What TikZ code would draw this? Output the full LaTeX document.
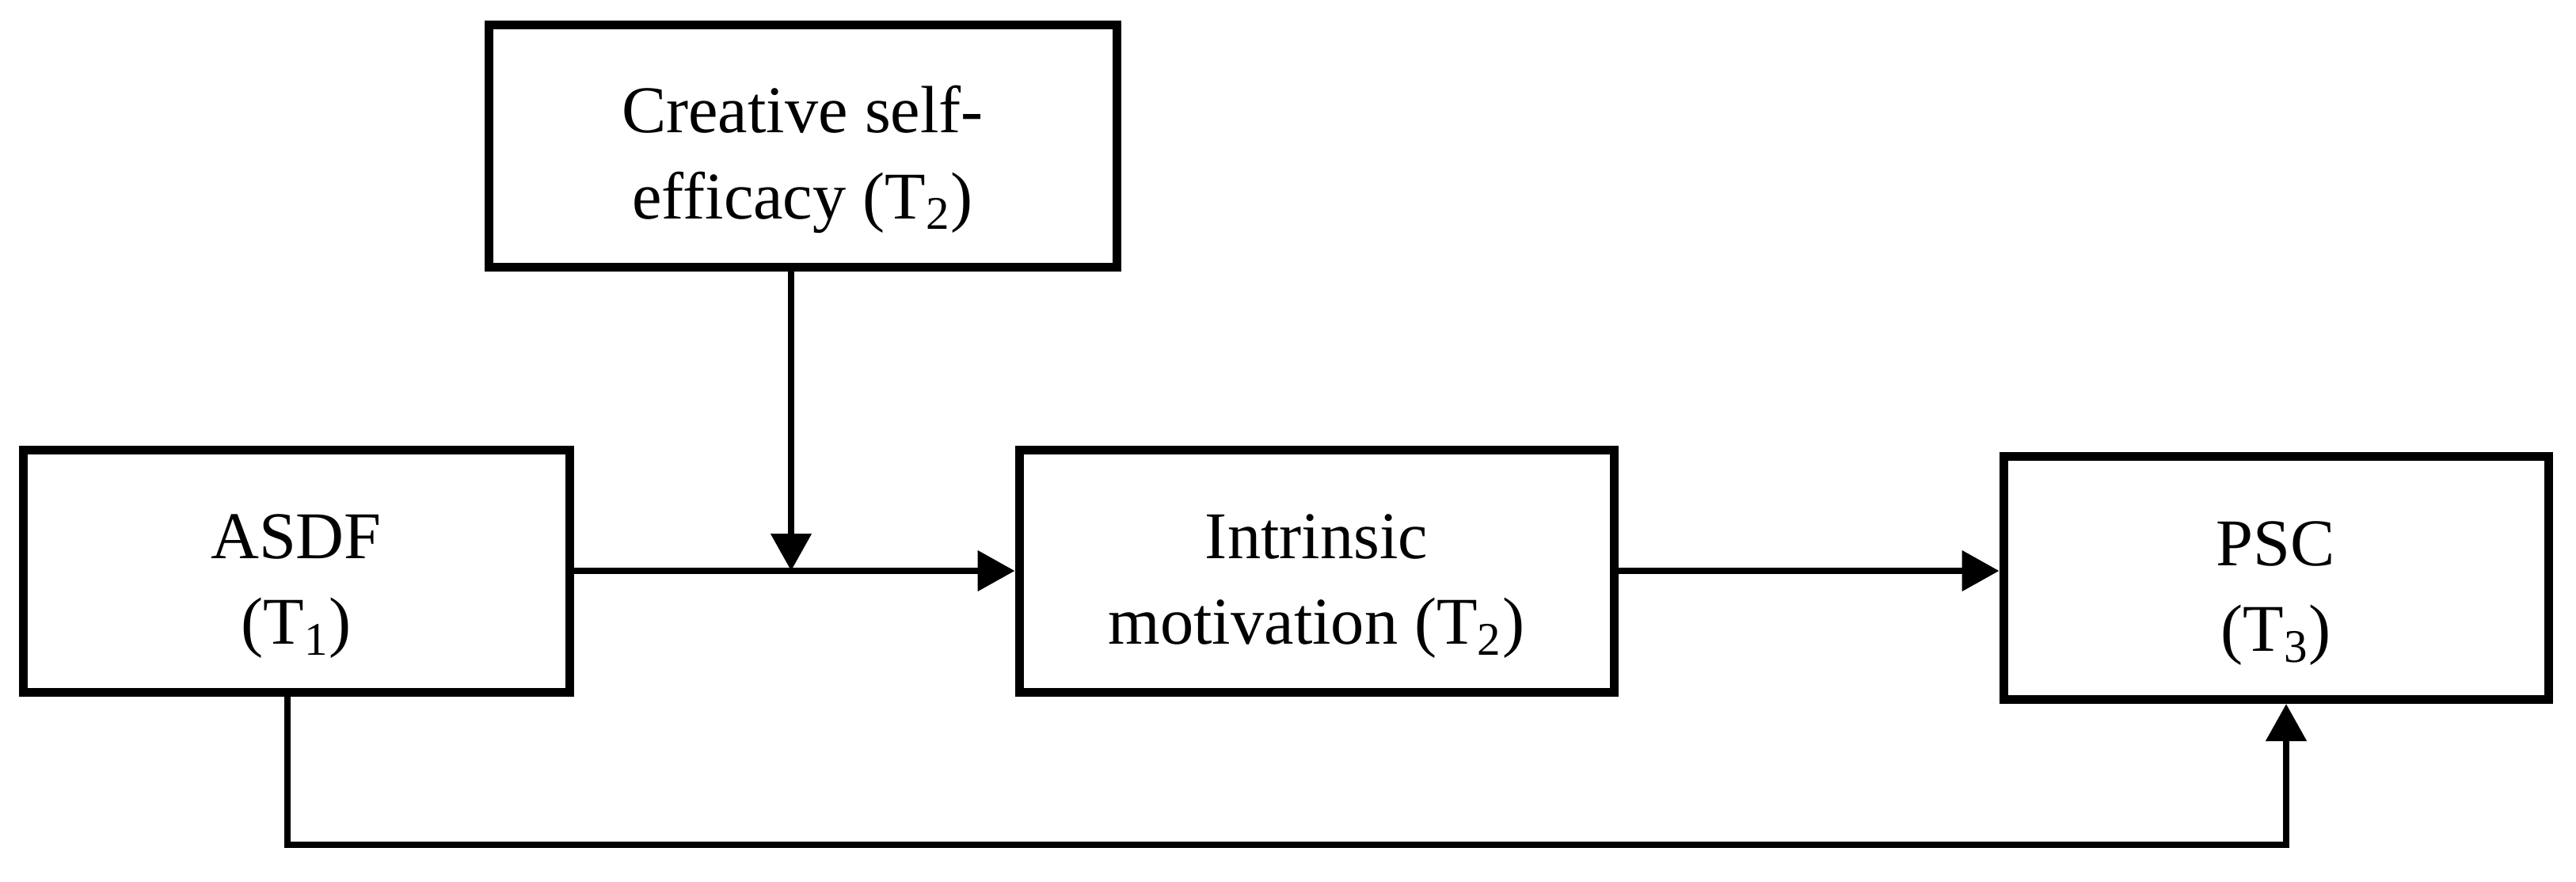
\documentclass[tikz,border=0pt]{standalone}
\usepackage{fontspec}
\setmainfont{Liberation Serif}
\usepackage{tikz}
\usetikzlibrary{positioning,arrows.meta}
\newcommand{\topgap}{\rule{0pt}{27pt}}
\tikzstyle{box} = [rectangle, minimum height = 3.06cm, text centered, align = center, draw = black, line width = 0.11cm, fill = white, font = \fontsize{24}{31}\selectfont]
\tikzstyle{arrow} = [line width = 0.08cm, -{Triangle[length=4.7mm, width=5mm]}]

\begin{document}
\begin{tikzpicture}
\useasboundingbox (0,0) rectangle (32.53,11.13);

\node(asdf) [box, minimum width = 6.9cm] at (3.74,3.92) {\topgap ASDF\\(T\textsubscript{1})};
\node(intr) [box, minimum width = 7.51cm, right = 5.57cm of asdf] {\topgap Intrinsic\\motivation (T\textsubscript{2})};
\node(psc) [box, minimum width = 6.88cm, minimum height = 3.07cm, right = 4.81cm of intr, yshift = -0.09cm] {\topgap PSC\\(T\textsubscript{3})};
\node(cse) [box, minimum width = 7.93cm] at (10.135,9.29) {\topgap Creative self-\\efficacy (T\textsubscript{2})};

\coordinate(mod) at (9.99,3.92);
\coordinate(low) at (3.63,0.46);

\draw [line width = 0.08cm] (asdf.east) -- (mod);
\draw [arrow] (mod) -- (intr.west);
\draw [arrow] (cse.south -| mod) -- (mod);
\draw [arrow] (intr.east) -- (intr.east -| psc.west);
\draw [arrow] (low |- asdf.south) -- (low) -- (low -| 28.87,0) -- (28.87,0 |- psc.south);

\end{tikzpicture}
\end{document}
